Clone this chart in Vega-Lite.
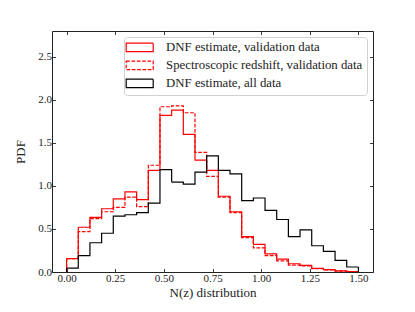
{
  "$schema": "https://vega.github.io/schema/vega-lite/v6.json",
  "width": 321,
  "height": 241,
  "autosize": "none",
  "padding": {"left": 52, "top": 31, "right": 42, "bottom": 40},
  "config": {
    "font": "Liberation Serif",
    "view": {"stroke": "#222", "strokeWidth": 1},
    "axis": {"grid": false, "domain": false, "tickColor": "#222", "tickSize": -3.5, "tickWidth": 0.9, "labelFontSize": 11, "labelColor": "#222", "titleFontSize": 13, "titleFontWeight": "normal", "titleColor": "#222", "labelFont": "Liberation Serif", "titleFont": "Liberation Serif"}
  },
  "data": {"values": [
    {"s":"DNF estimate, validation data","x0":0,"x1":0.06,"pdf":0.155},
    {"s":"DNF estimate, validation data","x0":0.06,"x1":0.12,"pdf":0.52},
    {"s":"DNF estimate, validation data","x0":0.12,"x1":0.18,"pdf":0.635},
    {"s":"DNF estimate, validation data","x0":0.18,"x1":0.24,"pdf":0.735},
    {"s":"DNF estimate, validation data","x0":0.24,"x1":0.30,"pdf":0.85},
    {"s":"DNF estimate, validation data","x0":0.30,"x1":0.36,"pdf":0.93},
    {"s":"DNF estimate, validation data","x0":0.36,"x1":0.42,"pdf":0.84},
    {"s":"DNF estimate, validation data","x0":0.42,"x1":0.48,"pdf":1.18},
    {"s":"DNF estimate, validation data","x0":0.48,"x1":0.54,"pdf":1.82},
    {"s":"DNF estimate, validation data","x0":0.54,"x1":0.60,"pdf":1.88},
    {"s":"DNF estimate, validation data","x0":0.60,"x1":0.66,"pdf":1.60},
    {"s":"DNF estimate, validation data","x0":0.66,"x1":0.72,"pdf":1.30},
    {"s":"DNF estimate, validation data","x0":0.72,"x1":0.78,"pdf":1.18},
    {"s":"DNF estimate, validation data","x0":0.78,"x1":0.84,"pdf":0.88},
    {"s":"DNF estimate, validation data","x0":0.84,"x1":0.90,"pdf":0.70},
    {"s":"DNF estimate, validation data","x0":0.90,"x1":0.96,"pdf":0.41},
    {"s":"DNF estimate, validation data","x0":0.96,"x1":1.02,"pdf":0.32},
    {"s":"DNF estimate, validation data","x0":1.02,"x1":1.08,"pdf":0.21},
    {"s":"DNF estimate, validation data","x0":1.08,"x1":1.14,"pdf":0.15},
    {"s":"DNF estimate, validation data","x0":1.14,"x1":1.20,"pdf":0.096},
    {"s":"DNF estimate, validation data","x0":1.20,"x1":1.26,"pdf":0.077},
    {"s":"DNF estimate, validation data","x0":1.26,"x1":1.32,"pdf":0.042},
    {"s":"DNF estimate, validation data","x0":1.32,"x1":1.38,"pdf":0.027},
    {"s":"DNF estimate, validation data","x0":1.38,"x1":1.44,"pdf":0.012},
    {"s":"DNF estimate, validation data","x0":1.44,"x1":1.50,"pdf":0.005},
    {"s":"Spectroscopic redshift, validation data","x0":0,"x1":0.06,"pdf":0.155},
    {"s":"Spectroscopic redshift, validation data","x0":0.06,"x1":0.12,"pdf":0.47},
    {"s":"Spectroscopic redshift, validation data","x0":0.12,"x1":0.18,"pdf":0.62},
    {"s":"Spectroscopic redshift, validation data","x0":0.18,"x1":0.24,"pdf":0.70},
    {"s":"Spectroscopic redshift, validation data","x0":0.24,"x1":0.30,"pdf":0.75},
    {"s":"Spectroscopic redshift, validation data","x0":0.30,"x1":0.36,"pdf":0.87},
    {"s":"Spectroscopic redshift, validation data","x0":0.36,"x1":0.42,"pdf":0.76},
    {"s":"Spectroscopic redshift, validation data","x0":0.42,"x1":0.48,"pdf":1.24},
    {"s":"Spectroscopic redshift, validation data","x0":0.48,"x1":0.54,"pdf":1.92},
    {"s":"Spectroscopic redshift, validation data","x0":0.54,"x1":0.60,"pdf":1.93},
    {"s":"Spectroscopic redshift, validation data","x0":0.60,"x1":0.66,"pdf":1.85},
    {"s":"Spectroscopic redshift, validation data","x0":0.66,"x1":0.72,"pdf":1.39},
    {"s":"Spectroscopic redshift, validation data","x0":0.72,"x1":0.78,"pdf":1.11},
    {"s":"Spectroscopic redshift, validation data","x0":0.78,"x1":0.84,"pdf":0.87},
    {"s":"Spectroscopic redshift, validation data","x0":0.84,"x1":0.90,"pdf":0.69},
    {"s":"Spectroscopic redshift, validation data","x0":0.90,"x1":0.96,"pdf":0.40},
    {"s":"Spectroscopic redshift, validation data","x0":0.96,"x1":1.02,"pdf":0.28},
    {"s":"Spectroscopic redshift, validation data","x0":1.02,"x1":1.08,"pdf":0.19},
    {"s":"Spectroscopic redshift, validation data","x0":1.08,"x1":1.14,"pdf":0.13},
    {"s":"Spectroscopic redshift, validation data","x0":1.14,"x1":1.20,"pdf":0.08},
    {"s":"Spectroscopic redshift, validation data","x0":1.20,"x1":1.26,"pdf":0.07},
    {"s":"Spectroscopic redshift, validation data","x0":1.26,"x1":1.32,"pdf":0.04},
    {"s":"Spectroscopic redshift, validation data","x0":1.32,"x1":1.38,"pdf":0.025},
    {"s":"Spectroscopic redshift, validation data","x0":1.38,"x1":1.44,"pdf":0.01},
    {"s":"Spectroscopic redshift, validation data","x0":1.44,"x1":1.50,"pdf":0.005},
    {"s":"DNF estimate, all data","x0":0,"x1":0.06,"pdf":0.046},
    {"s":"DNF estimate, all data","x0":0.06,"x1":0.12,"pdf":0.19},
    {"s":"DNF estimate, all data","x0":0.12,"x1":0.18,"pdf":0.34},
    {"s":"DNF estimate, all data","x0":0.18,"x1":0.24,"pdf":0.45},
    {"s":"DNF estimate, all data","x0":0.24,"x1":0.30,"pdf":0.65},
    {"s":"DNF estimate, all data","x0":0.30,"x1":0.36,"pdf":0.665},
    {"s":"DNF estimate, all data","x0":0.36,"x1":0.42,"pdf":0.69},
    {"s":"DNF estimate, all data","x0":0.42,"x1":0.48,"pdf":0.80},
    {"s":"DNF estimate, all data","x0":0.48,"x1":0.54,"pdf":1.19},
    {"s":"DNF estimate, all data","x0":0.54,"x1":0.60,"pdf":1.045},
    {"s":"DNF estimate, all data","x0":0.60,"x1":0.66,"pdf":1.02},
    {"s":"DNF estimate, all data","x0":0.66,"x1":0.72,"pdf":1.16},
    {"s":"DNF estimate, all data","x0":0.72,"x1":0.78,"pdf":1.35},
    {"s":"DNF estimate, all data","x0":0.78,"x1":0.84,"pdf":1.18},
    {"s":"DNF estimate, all data","x0":0.84,"x1":0.90,"pdf":1.14},
    {"s":"DNF estimate, all data","x0":0.90,"x1":0.96,"pdf":0.83},
    {"s":"DNF estimate, all data","x0":0.96,"x1":1.02,"pdf":0.86},
    {"s":"DNF estimate, all data","x0":1.02,"x1":1.08,"pdf":0.715},
    {"s":"DNF estimate, all data","x0":1.08,"x1":1.14,"pdf":0.61},
    {"s":"DNF estimate, all data","x0":1.14,"x1":1.20,"pdf":0.41},
    {"s":"DNF estimate, all data","x0":1.20,"x1":1.26,"pdf":0.49},
    {"s":"DNF estimate, all data","x0":1.26,"x1":1.32,"pdf":0.305},
    {"s":"DNF estimate, all data","x0":1.32,"x1":1.38,"pdf":0.24},
    {"s":"DNF estimate, all data","x0":1.38,"x1":1.44,"pdf":0.135},
    {"s":"DNF estimate, all data","x0":1.44,"x1":1.50,"pdf":0.058}
  ]},
  "resolve": {"axis": {"x": "independent", "y": "independent"}},
  "layer": [
    {
      "transform": [{"fold": ["x0", "x1"], "as": ["edge", "xv"]}],
      "mark": {"type": "line", "strokeWidth": 1.2, "clip": true},
      "encoding": {
        "x": {"field": "xv", "type": "quantitative", "scale": {"domain": [-0.075, 1.575], "nice": false, "zero": false},
              "axis": {"orient": "bottom", "values": [0, 0.25, 0.5, 0.75, 1.0, 1.25, 1.5], "format": ".2f", "title": "N(z) distribution", "labelPadding": 4, "titlePadding": 3}},
        "y": {"field": "pdf", "type": "quantitative", "scale": {"domain": [0, 2.8], "nice": false},
              "axis": {"orient": "left", "values": [0, 0.5, 1.0, 1.5, 2.0, 2.5], "format": ".1f", "title": "PDF", "labelPadding": 4, "titlePadding": 10}},
        "color": {"field": "s", "type": "nominal",
                  "scale": {"domain": ["DNF estimate, validation data", "Spectroscopic redshift, validation data", "DNF estimate, all data"], "range": ["#ff0000", "#ff0000", "#000000"]},
                  "legend": {"title": null, "orient": "top-right", "offset": 6, "symbolType": "M-3,-0.93H3V0.93H-3Z", "symbolSize": 81, "symbolOffset": 5.3, "symbolStrokeWidth": 1.2, "labelFontSize": 12.8, "labelLimit": 400, "labelFont": "Liberation Serif", "labelColor": "#222", "rowPadding": 3, "padding": 4, "fillColor": "white", "strokeColor": "#d0d0d0", "cornerRadius": 3, "labelOffset": 20}},
        "strokeDash": {"field": "s", "type": "nominal",
                  "scale": {"domain": ["DNF estimate, validation data", "Spectroscopic redshift, validation data", "DNF estimate, all data"], "range": [[1, 0], [3.7, 1.6], [1, 0]]},
                  "legend": {"title": null}},
        "order": [{"field": "xv", "type": "quantitative"}, {"field": "edge", "sort": "descending"}]
      }
    },
    {
      "transform": [{"filter": "datum.x0 == 0"}],
      "mark": {"type": "rule", "strokeWidth": 1.2},
      "encoding": {
        "x": {"field": "x0", "type": "quantitative", "axis": {"orient": "top", "values": [0, 0.25, 0.5, 0.75, 1.0, 1.25, 1.5], "labels": false, "title": null}},
        "y": {"field": "pdf", "type": "quantitative", "axis": {"orient": "right", "values": [0, 0.5, 1.0, 1.5, 2.0, 2.5], "labels": false, "title": null}},
        "y2": {"datum": 0},
        "color": {"field": "s", "type": "nominal"},
        "strokeDash": {"field": "s", "type": "nominal"}
      }
    },
    {
      "transform": [{"filter": "datum.x1 == 1.5"}],
      "mark": {"type": "rule", "strokeWidth": 1.2},
      "encoding": {
        "x": {"field": "x1", "type": "quantitative", "axis": null},
        "y": {"field": "pdf", "type": "quantitative", "axis": null},
        "y2": {"datum": 0},
        "color": {"field": "s", "type": "nominal"},
        "strokeDash": {"field": "s", "type": "nominal"}
      }
    }
  ]
}
